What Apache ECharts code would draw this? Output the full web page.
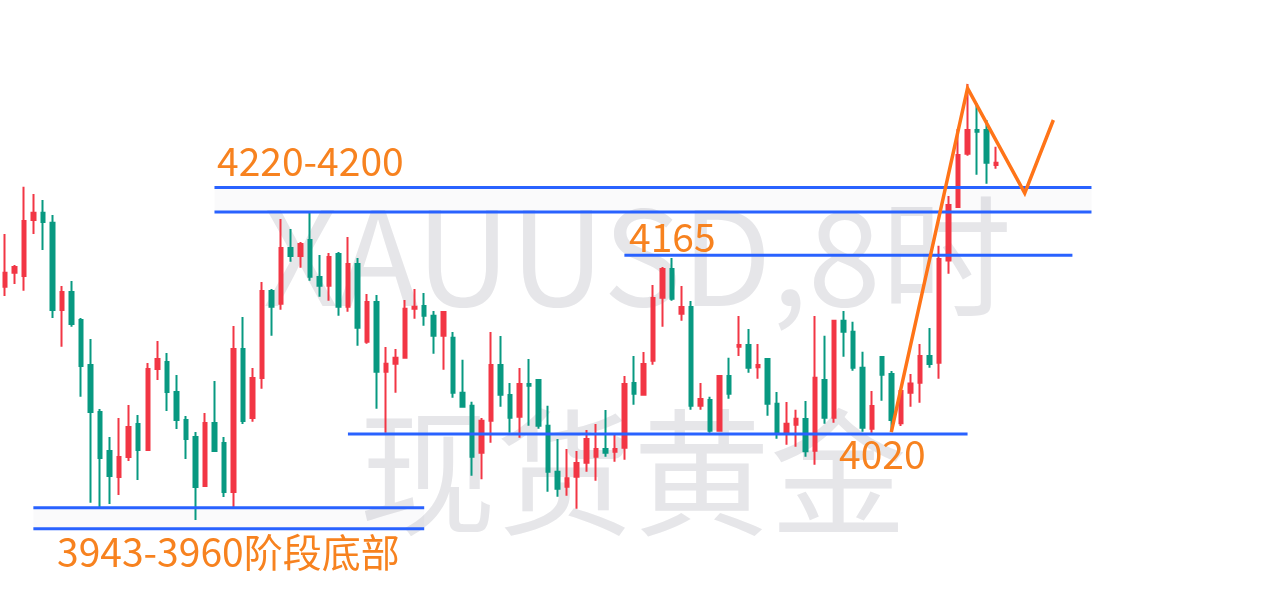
<!DOCTYPE html>
<html><head><meta charset="utf-8">
<script src="https://cdn.jsdelivr.net/npm/echarts@6/dist/echarts.min.js"></script>
<style>html,body{margin:0;padding:0;background:#fff}#c{width:1264px;height:606px}</style>
</head><body><div id="c"></div>
<script>
// ---- data ----
const opens  = [4139.4,4150.8,4148.1,4193.5,4199.5,4191.4,4120.5,4135.1,4112.4,4075.9,4037.8,4006.1,3985.0,4001.2,4028.0,4006.9,4072.6,4078.3,4054.0,4031.3,4017.5,3977.7,4028.8,4012.6,3972.8,4088.9,4032.9,4065.3,4135.9,4125.6,4170.8,4164.3,4177.3,4147.3,4140.2,4166.0,4123.2,4157.8,4094.8,4127.0,4070.5,4076.9,4081.8,4121.6,4123.8,4115.9,4099.7,4098.0,4053.4,4042.9,4004.7,4030.7,4075.9,4051.5,4033.9,4060.5,4063.7,4026.6,3989.3,3977.1,3985.3,3996.6,4001.5,4007.7,4005.5,4008.8,4061.3,4051.8,4079.4,4130.5,4153.8,4117.5,4123.0,4042.9,4047.5,4022.6,4067.0,4090.7,4092.1,4074.0,4080.8,4044.5,4021.0,4027.5,4032.1,4006.4,4063.7,4033.1,4111.8,4102.9,4073.7,4024.2,4082.4,4068.6,4028.6,4053.4,4061.5,4083.2,4077.8,4160.8,4204.1,4247.3,4266.6,4266.6,4238.2];
const closes = [4150.8,4155.4,4192.7,4199.5,4191.9,4120.5,4135.1,4109.2,4075.1,4037.8,4000.4,3985.8,4001.2,4025.6,4006.9,4072.6,4080.8,4054.0,4031.3,4015.9,3976.9,4028.8,4006.1,3972.8,4088.9,4030.5,4065.3,4135.9,4123.2,4170.8,4164.3,4174.1,4147.5,4140.2,4163.5,4123.2,4157.8,4106.2,4127.0,4070.5,4076.9,4081.8,4121.6,4123.2,4115.9,4099.7,4118.9,4053.4,4042.1,4001.5,4030.7,4075.9,4051.8,4033.1,4060.5,4059.1,4026.6,3989.3,3975.5,3984.0,3996.4,4015.9,4007.7,4004.7,4007.7,4060.5,4052.6,4076.7,4130.3,4153.8,4129.7,4123.0,4042.9,4048.3,4022.6,4067.0,4052.6,4092.1,4073.7,4075.9,4044.5,4021.0,4028.3,4032.3,4005.9,4065.6,4033.1,4111.8,4102.9,4073.7,4025.0,4042.6,4068.0,4031.3,4054.8,4061.0,4083.2,4076.7,4161.9,4205.7,4246.3,4266.6,4265.2,4240.0,4240.0];
const lows   = [4131.9,4141.6,4136.2,4182.2,4169.2,4114.0,4090.7,4107.0,4050.2,3964.2,3960.4,3963.1,3970.4,3998.0,3982.6,4006.1,4063.7,4038.6,4024.0,3999.6,3950.1,3977.7,4005.3,3968.8,3960.7,4028.0,4029.9,4056.7,4099.7,4120.8,4159.7,4154.8,4144.3,4131.3,4128.1,4115.9,4119.1,4091.6,4093.2,4040.4,4021.0,4053.4,4081.0,4113.5,4107.8,4085.1,4072.1,4049.4,4041.2,3986.1,3983.2,4012.8,4042.1,4021.0,4016.9,4026.6,4024.2,3973.1,3969.0,3969.8,3959.3,3989.3,3982.0,4001.5,3997.4,3999.1,4043.7,4051.0,4076.1,4107.0,4128.1,4111.8,4039.6,4039.6,4021.0,4022.6,4048.5,4083.2,4069.6,4064.8,4034.8,4016.1,4011.2,4009.6,4001.5,3995.0,4028.3,4029.1,4082.6,4071.3,4021.8,4021.0,4046.9,4021.8,4026.4,4042.1,4045.3,4073.7,4064.8,4150.0,4203.5,4245.7,4230.3,4223.0,4235.2];
const highs  = [4182.2,4157.0,4220.6,4214.6,4209.8,4197.6,4140.0,4144.0,4114.0,4097.0,4040.2,4017.5,4032.9,4043.4,4035.3,4077.5,4095.4,4085.6,4067.8,4034.5,4021.5,4036.9,4062.9,4017.5,4107.5,4114.8,4073.5,4143.2,4137.6,4194.4,4186.2,4175.7,4200.8,4165.1,4166.8,4167.6,4179.8,4162.7,4133.5,4132.7,4090.5,4088.9,4128.6,4137.6,4134.3,4119.7,4118.9,4102.7,4080.2,4046.1,4032.9,4102.7,4099.4,4061.3,4073.5,4080.8,4064.5,4042.9,4015.9,4007.7,4006.1,4023.2,4028.0,4039.4,4019.1,4067.0,4083.2,4086.4,4140.8,4155.4,4162.7,4140.0,4127.8,4061.3,4050.2,4067.8,4081.8,4115.6,4105.1,4092.9,4081.0,4054.0,4045.9,4039.6,4046.7,4115.6,4099.7,4112.4,4119.7,4111.0,4086.7,4054.8,4082.4,4071.0,4055.5,4068.6,4092.9,4105.9,4172.7,4213.0,4267.4,4303.9,4288.5,4274.7,4253.0];

const totalSlots = 132; // bars plus empty space on the right
const categories = Array.from({length: totalSlots}, (_, i) => String(i + 1));

// horizontal levels (price, start bar index, end bar index)
const levelPrices = [4220, 4200, 4165, 4020, 3960, 3943];
const levelStart  = [22, 22, 65, 36, 3, 3];
const levelEnd    = [114, 114, 112, 101, 44, 44];
// shaded zones [startIdx, endIdx, top, bottom]
const zones = [[22, 114, 4220, 4200], [3, 44, 3960, 3943]];
// orange zig-zag path
const zigX = [93, 101, 107, 110];
const zigY = [4021.5, 4300.6, 4215.4, 4274.7];

// annotation texts
const labelTexts = ['4220-4200', '4165', '4020', '3943-3960阶段底部'];
const watermark1 = 'XAUUSD,8时';
const watermark2 = '现货黄金';

// ---- build ----
const UP = '#f23645', DOWN = '#089981', BLUE = '#2962ff', ORANGE = '#f7821f', ZIG = '#ff7418';
const FONT = '"Noto Sans CJK SC", "Noto Sans", sans-serif';

const kData = opens.map((o, i) => [o, closes[i], lows[i], highs[i]]);

const series = [{
  type: 'candlestick',
  data: kData,
  barWidth: 4,
  z: 3,
  itemStyle: { color: UP, color0: DOWN, borderColor: UP, borderColor0: DOWN, borderWidth: 2 },
  markArea: {
    silent: true,
    itemStyle: { color: 'rgba(120,120,140,0.035)' },
    data: zones.map(z => [{ coord: [z[0], z[2]] }, { coord: [z[1], z[3]] }])
  }
}];

levelPrices.forEach((p, i) => {
  series.push({
    type: 'line', symbol: 'none', silent: true, z: 5,
    data: [[levelStart[i], p], [levelEnd[i], p]],
    lineStyle: { color: BLUE, width: 3 }
  });
});

series.push({
  type: 'line', symbol: 'none', silent: true, z: 6,
  data: zigX.map((x, i) => [x, zigY[i]]),
  lineStyle: { color: ZIG, width: 3.5, join: 'miter', miterLimit: 10 }
});

const labelPos = [[217, 161.5], [629, 236.7], [839, 453.8], [57, 552.5]];
const graphic = [
  { type: 'text', x: 263, y: 256.5, z: 0, silent: true,
    style: { text: watermark1, fill: '#e6e6e9', fontSize: 131, fontFamily: FONT, align: 'left', verticalAlign: 'middle' } },
  { type: 'text', x: 359, y: 472.5, z: 0, silent: true,
    style: { text: watermark2, fill: '#e6e6e9', fontSize: 137, fontFamily: FONT, align: 'left', verticalAlign: 'middle' } }
].concat(labelTexts.map((t, i) => ({
  type: 'text', x: labelPos[i][0], y: labelPos[i][1], z: 100, silent: true,
  style: { text: t, fill: ORANGE, fontSize: 39, fontFamily: FONT, align: 'left', verticalAlign: 'middle' }
})));

const chart = echarts.init(document.getElementById('c'), null, { renderer: 'canvas' });
chart.setOption({
  animation: false,
  backgroundColor: '#ffffff',
  grid: { left: -2.3, width: 1260.6, top: 27.2, bottom: 24.2, containLabel: false },
  xAxis: { type: 'category', data: categories, boundaryGap: true, show: false },
  yAxis: { type: 'value', min: 3900, max: 4350, show: false, splitLine: { show: false } },
  tooltip: { show: false },
  graphic: graphic,
  series: series
});
</script>
</body></html>
